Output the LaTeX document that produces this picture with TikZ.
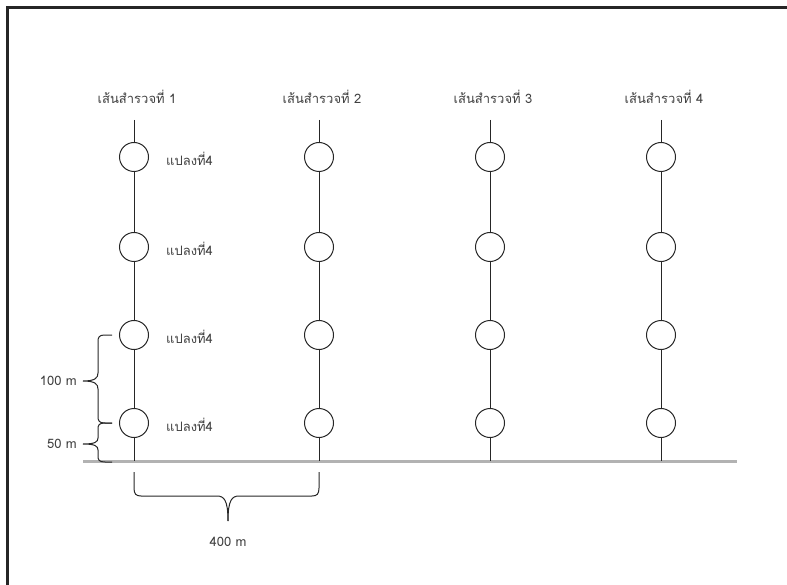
\documentclass[tikz,border=0pt]{standalone}
\usepackage{fontspec}
\newfontfamily\thaifont[Script=Thai]{Loma}
\begin{document}
\begin{tikzpicture}[x=1pt,y=-1pt,
  txt/.style={font=\thaifont\fontsize{13}{15}\selectfont, text=black!75, inner sep=0pt},
  plot/.style={circle, draw=black!85, line width=1pt, minimum size=29pt, inner sep=0pt},
  tline/.style={draw=black!85, line width=1pt},
  base/.style={draw=black!30, line width=3pt},
  frame/.style={draw=black!85, line width=3pt},
  brc/.style={draw=black!85, line width=1pt}]
\useasboundingbox (0,0) rectangle (787,585);
% frame
\coordinate (f1) at (7.5,585);
\coordinate (f2) at (7.5,7.5);
\coordinate (f3) at (787,7.5);
\draw[frame] (f1) -- (f2) -- (f3);
% base line
\coordinate (b0) at (83,461);
\coordinate (b1) at (737,461);
\draw[base] (b0) -- (b1);
% transects
\foreach \i/\x in {1/134,2/319,3/490,4/661}{
  \node[txt] (h\i) at (\x+3,97) {เส้นสำรวจที่ \i};
  \coordinate (t\i) at (\x,120);
  \coordinate (e\i) at (\x,461);
  \node[plot] (c\i1) at (\x,157) {};
  \node[plot] (c\i2) at (\x,247) {};
  \node[plot] (c\i3) at (\x,335) {};
  \node[plot] (c\i4) at (\x,423) {};
  \draw[tline] (t\i) -- (c\i1) (c\i1) -- (c\i2) (c\i2) -- (c\i3) (c\i3) -- (c\i4) (c\i4) -- (e\i);
}
% plot labels
\foreach \j in {1,2,3,4}{
  \node[txt, anchor=west] (p\j) at ([xshift=32pt,yshift=-2pt]c1\j.center) {แปลงที่4};
}
% left braces
\coordinate (lb1) at (112,335);
\coordinate (lb2) at (112,423);
\coordinate (lb3) at (112,462);
\draw[brc] (lb1) -- (105,335) .. controls (99,335) and (98,337) .. (98,342) -- (98,373)
  .. controls (98,378) and (95,381) .. (83,381)
  .. controls (95,381) and (98,384) .. (98,389) -- (98,416)
  .. controls (98,421) and (99,423) .. (105,423) -- (lb2);
\draw[brc] (lb2) -- (105,423) .. controls (99,423) and (98,425) .. (98,429) -- (98,438)
  .. controls (98,442) and (95,444) .. (83,444)
  .. controls (95,444) and (98,446) .. (98,450) -- (98,456)
  .. controls (98,460) and (99,462) .. (105,462) -- (lb3);
\node[txt, anchor=east] (m100) at (77,381) {100 m};
\node[txt, anchor=east] (m50) at (77,444) {50 m};
% bottom brace
\coordinate (bb1) at (134,472);
\coordinate (bb2) at (319,472);
\coordinate (bbt) at (228,521);
\draw[brc] (bb1) -- (134,488) .. controls (134,494) and (136,496) .. (141,496) -- (217,496)
  .. controls (224,496) and (228,500) .. (bbt);
\draw[brc] (bb2) -- (319,488) .. controls (319,494) and (317,496) .. (312,496) -- (239,496)
  .. controls (232,496) and (228,500) .. (bbt);
\node[txt] (m400) at (228,542) {400 m};
\end{tikzpicture}
\end{document}
